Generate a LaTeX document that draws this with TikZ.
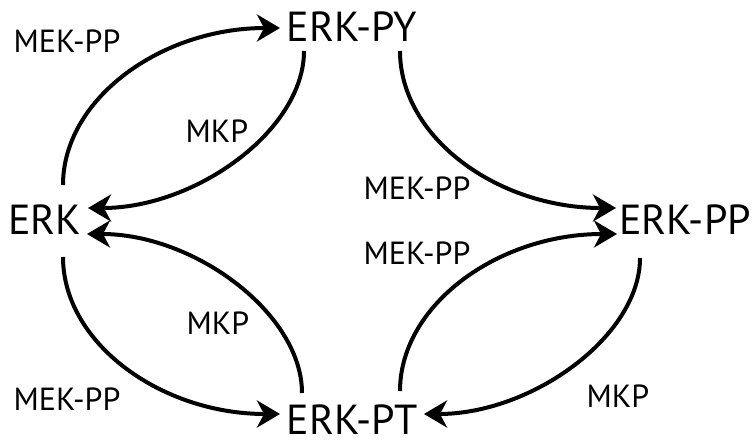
\documentclass[tikz,border=0pt]{standalone}
\usepackage{fontspec}
\setmainfont{PT Sans}
\usetikzlibrary{arrows.meta}
\begin{document}
\begin{tikzpicture}[x=1pt,y=1pt,
  species/.style={font=\fontsize{42}{44}\selectfont, inner sep=0pt, anchor=base},
  enzyme/.style={font=\fontsize{32}{34}\selectfont, inner sep=0pt, anchor=base},
  react/.style={line width=4pt, -{Stealth[length=23pt,width=27pt,inset=7pt]}}]
\useasboundingbox (0,0) rectangle (755,442);

% species
\node[species] (erk)   at (45,207)  {ERK};
\node[species] (erkpy) at (352,400) {ERK-PY};
\node[species] (erkpt) at (352,8)   {ERK-PT};
\node[species] (erkpp) at (685,207) {ERK-PP};

% enzymes
\node[enzyme] (e1) at (67,389)  {MEK-PP};
\node[enzyme] (e2) at (217,299) {MKP};
\node[enzyme] (e3) at (417,242) {MEK-PP};
\node[enzyme] (e4) at (417,177) {MEK-PP};
\node[enzyme] (e5) at (218,107) {MKP};
\node[enzyme] (e6) at (67,32)   {MEK-PP};
\node[enzyme] (e7) at (618,35)  {MKP};

% reactions
\draw[react] ([shift={(18,50)}]erk.base) .. controls +(0,86) and +(-119,0) .. ([shift={(-72,14)}]erkpy.base);
\draw[react] ([shift={(-48,-9)}]erkpy.base) .. controls +(0,-79) and +(108,0) .. ([shift={(43,27)}]erk.base);
\draw[react] ([shift={(-50,41)}]erkpt.base) .. controls +(0,79) and +(108,0) .. ([shift={(42,1)}]erk.base);
\draw[react] ([shift={(18,-22)}]erk.base) .. controls +(0,-86) and +(-119,0) .. ([shift={(-72,20)}]erkpt.base);
\draw[react] ([shift={(48,-9)}]erkpy.base) .. controls +(0,-86) and +(-119,0) .. ([shift={(-69,27)}]erkpp.base);
\draw[react] ([shift={(48,43)}]erkpt.base) .. controls +(0,86) and +(-119,0) .. ([shift={(-68,1)}]erkpp.base);
\draw[react] ([shift={(-45,-23)}]erkpp.base) .. controls +(0,-78) and +(108,0) .. ([shift={(72,20)}]erkpt.base);
\end{tikzpicture}
\end{document}
